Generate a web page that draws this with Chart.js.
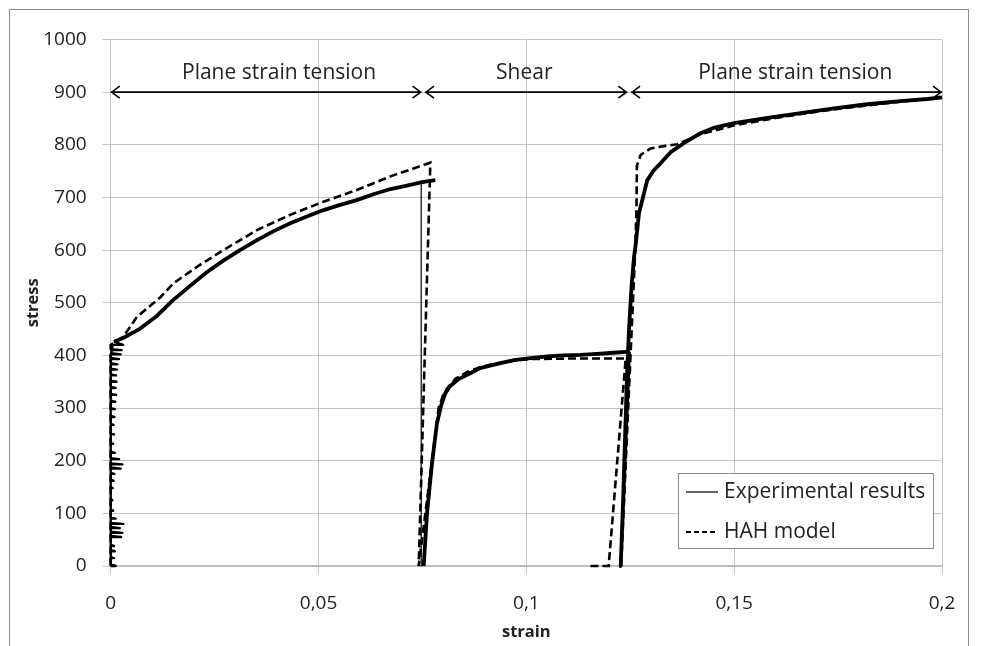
<!DOCTYPE html>
<html>
<head>
<meta charset="utf-8">
<script src="https://cdn.jsdelivr.net/npm/chart.js@4.4.1/dist/chart.umd.min.js"></script>
<style>
  body { margin: 0; background: #fff; overflow: hidden; }
  #wrap { position: relative; width: 986px; height: 646px; }
  #frame { position: absolute; left: 9px; top: 9px; width: 958px; height: 700px; border: 1px solid #8c8c8c; pointer-events: none; }
</style>
</head>
<body>
<div id="wrap">
  <div id="frame"></div>
  <canvas id="chart"></canvas>
</div>
<script>
// axis ticks
const xTickLabels = ['0', '0,05', '0,1', '0,15', '0,2'];

// experimental results: elastic part of the first plane strain tension (noisy spikes)
const expElasticStrain = [0, 0.0012, 0, 0, 0.0008, 0, 0, 0.0010, 0, 0, 0.0008, 0, 0, 0.0025, 0, 0, 0.0028, 0, 0, 0.0022, 0,
  0, 0.0030, 0, 0, 0.0012, 0, 0, 0.0006, 0, 0, 0.0004, 0, 0, 0.0005, 0, 0, 0.0007, 0, 0, 0.0009, 0, 0, 0.0024, 0,
  0, 0.0028, 0, 0, 0.0020, 0, 0, 0.0010, 0, 0, 0.0006, 0, 0, 0.0008, 0, 0, 0.0007, 0, 0, 0.0009, 0, 0, 0.0010, 0,
  0, 0.0011, 0, 0, 0.0013, 0, 0, 0.0012, 0, 0, 0.0014, 0, 0, 0.0013, 0, 0, 0.0015, 0, 0, 0.0016, 0, 0, 0.0020, 0,
  0, 0.0024, 0.0001, 0.0002, 0.0026, 0.0003, 0.0005, 0.0030, 0.0008];
const expElasticStress = [0, 0, 3, 15, 15, 17, 28, 28, 30, 38, 38, 40, 55, 55, 57, 63, 63, 65, 72, 72, 74,
  80, 80, 82, 90, 90, 92, 105, 105, 107, 125, 125, 127, 148, 148, 150, 162, 162, 164, 175, 175, 177, 185, 185, 187,
  193, 193, 195, 203, 203, 205, 215, 215, 217, 232, 232, 234, 250, 250, 252, 268, 268, 270, 283, 283, 285, 298, 298, 300,
  312, 312, 314, 325, 325, 327, 338, 338, 340, 350, 350, 352, 362, 362, 364, 373, 373, 375, 383, 383, 385, 393, 393, 395,
  402, 402, 404, 410, 410, 412, 420, 420, 426];

// experimental: hardening of the first plane strain tension
const expPst1Strain = [0.0008, 0.003, 0.0071, 0.0111, 0.015, 0.0191, 0.0231, 0.0271, 0.0311, 0.0352, 0.0392, 0.0432,
  0.0472, 0.0512, 0.0552, 0.0592, 0.0632, 0.0673, 0.071, 0.0749, 0.0781];
const expPst1Stress = [426, 433, 451, 475, 505, 532, 558, 580, 600, 619, 636, 651,
  664, 676, 686, 695, 706, 716, 722, 729, 733];

// experimental: sudden unloading after the first path
const expDropStrain = [0.0747, 0.0747];
const expDropStress = [727, 0];

// experimental: shear, unloading, second plane strain tension
const expShearStrain = [0.0753, 0.0761, 0.0773, 0.0785, 0.0795, 0.0805, 0.0817, 0.0837, 0.0865, 0.0889, 0.093, 0.097,
  0.101, 0.105, 0.109, 0.113, 0.117, 0.121, 0.1247];
const expShearStress = [0, 100, 195, 271, 305, 328, 342, 355, 366, 376, 384, 391,
  395, 398, 400, 401, 403, 405, 407];
const expPst2Strain = [0.1247, 0.1227, 0.1233, 0.1238, 0.1243, 0.1247, 0.1253, 0.1259, 0.1263, 0.1271, 0.1283, 0.1291,
  0.1307, 0.1323, 0.1347, 0.1379, 0.1419, 0.145, 0.15, 0.158, 0.166, 0.174, 0.182, 0.19, 0.1965, 0.2];
const expPst2Stress = [407, 0, 130, 258, 380, 450, 530, 587, 610, 670, 708, 733,
  752, 765, 786, 803, 822, 832, 841, 851, 860, 869, 877, 883, 887, 890];

// HAH model: first plane strain tension, shear and unloading
const hahPst1Strain = [0, 0, 0.003, 0.0063, 0.0119, 0.0151, 0.0211, 0.0271, 0.0352, 0.0432, 0.0512, 0.0592, 0.0673, 0.0769,
  0.0741, 0.0789, 0.08, 0.0809, 0.083, 0.0857, 0.089, 0.093, 0.097, 0.101, 0.11, 0.1239, 0.1198, 0.115];
const hahPst1Stress = [0, 420, 435, 473, 510, 537, 570, 600, 638, 667, 692, 714, 740, 766,
  0, 300, 325, 337, 356, 368, 378, 385, 390, 393, 394, 394, 0, 0];
// HAH model: second plane strain tension
const hahPst2Strain = [0.1228, 0.1262, 0.1265, 0.1266, 0.1275, 0.1299, 0.1335, 0.1363, 0.1387, 0.1419, 0.15, 0.16,
  0.17, 0.18, 0.19, 0.2];
const hahPst2Stress = [0, 600, 680, 760, 781, 793, 798, 801, 809, 820, 837, 851,
  863, 873, 882, 890];

// loading paths drawn above the curves
const phaseNames = ['Plane strain tension', 'Shear', 'Plane strain tension'];
const phaseFrom = [0, 0.0756, 0.1252];
const phaseTo = [0.0748, 0.1243, 0.2];
const phaseLabelAt = [0.0405, 0.0995, 0.1647];
const arrowStress = 900;
const labelStress = 936;

const legendNames = ['Experimental results', 'HAH model'];

function pts(xs, ys) {
  return xs.map((v, i) => ({ x: v, y: ys[i] }));
}

const FONT = "'Open Sans', 'DejaVu Sans', sans-serif";
const TXT = '#222';

const expStyle = { borderColor: '#000', borderWidth: 3.8, borderJoinStyle: 'round', pointRadius: 0, showLine: true, tension: 0, fill: false, clip: 6 };
const hahStyle = { borderColor: '#000', borderWidth: 2.6, borderDash: [8, 4], pointRadius: 0, showLine: true, tension: 0, fill: false, clip: 6 };

const phasePlugin = {
  id: 'phases',
  afterDatasetsDraw(chart) {
    const { ctx, scales: { x, y } } = chart;
    ctx.save();
    ctx.strokeStyle = '#000';
    ctx.lineWidth = 1.6;
    ctx.fillStyle = TXT;
    ctx.font = '21px ' + FONT;
    ctx.textAlign = 'center';
    ctx.textBaseline = 'middle';
    const ay = y.getPixelForValue(arrowStress);
    phaseNames.forEach((name, i) => {
      const x1 = x.getPixelForValue(phaseFrom[i]);
      const x2 = x.getPixelForValue(phaseTo[i]);
      ctx.beginPath();
      ctx.moveTo(x1, ay);
      ctx.lineTo(x2, ay);
      ctx.moveTo(x1 + 9, ay - 6);
      ctx.lineTo(x1 + 1, ay);
      ctx.lineTo(x1 + 9, ay + 6);
      ctx.moveTo(x2 - 9, ay - 6);
      ctx.lineTo(x2 - 1, ay);
      ctx.lineTo(x2 - 9, ay + 6);
      ctx.stroke();
      ctx.fillText(name, x.getPixelForValue(phaseLabelAt[i]), y.getPixelForValue(labelStress));
    });
    ctx.restore();
  }
};

const legendPlugin = {
  id: 'boxLegend',
  afterDraw(chart) {
    const { ctx, chartArea } = chart;
    const w = 255, h = 75;
    const left = chartArea.right - 9 - w;
    const top = chartArea.bottom - 18 - h;
    ctx.save();
    ctx.fillStyle = '#fff';
    ctx.fillRect(left, top, w, h);
    ctx.strokeStyle = '#8c8c8c';
    ctx.lineWidth = 1;
    ctx.strokeRect(left + 0.5, top + 0.5, w, h);
    ctx.strokeStyle = '#000';
    ctx.beginPath();
    ctx.lineWidth = 1.2;
    ctx.moveTo(left + 8, top + 19);
    ctx.lineTo(left + 40, top + 19);
    ctx.stroke();
    ctx.beginPath();
    ctx.lineWidth = 2;
    ctx.setLineDash([5, 3]);
    ctx.moveTo(left + 8, top + 59);
    ctx.lineTo(left + 40, top + 59);
    ctx.stroke();
    ctx.setLineDash([]);
    ctx.fillStyle = TXT;
    ctx.font = '21px ' + FONT;
    ctx.textBaseline = 'middle';
    ctx.fillText(legendNames[0], left + 46, top + 19);
    ctx.fillText(legendNames[1], left + 46, top + 59);
    ctx.restore();
  }
};

new Chart(document.getElementById('chart'), {
  type: 'scatter',
  data: {
    datasets: [
      { label: legendNames[1], data: pts(hahPst1Strain, hahPst1Stress), ...hahStyle },
      { label: legendNames[1], data: pts(hahPst2Strain, hahPst2Stress), ...hahStyle },
      { label: legendNames[0], data: pts(expElasticStrain, expElasticStress), ...expStyle, borderWidth: 2.4 },
      { label: legendNames[0], data: pts(expPst1Strain, expPst1Stress), ...expStyle },
      { label: legendNames[0], data: pts(expDropStrain, expDropStress), ...expStyle, borderWidth: 1.2 },
      { label: legendNames[0], data: pts(expShearStrain, expShearStress), ...expStyle },
      { label: legendNames[0], data: pts(expPst2Strain, expPst2Stress), ...expStyle }
    ]
  },
  options: {
    responsive: true,
    maintainAspectRatio: false,
    animation: false,
    layout: { padding: { left: 10.7, top: 39.5, right: 44, bottom: 0 } },
    plugins: { legend: { display: false }, tooltip: { enabled: false } },
    scales: {
      x: {
        type: 'linear',
        min: 0,
        max: 0.2,
        afterFit: s => { s.height = 80; },
        grid: { color: '#c4c4c4', tickLength: 8, tickColor: '#c4c4c4' },
        border: { color: '#bdbdbd', width: 2 },
        ticks: {
          stepSize: 0.05,
          padding: 18,
          color: TXT,
          font: { family: FONT, size: 19 },
          callback: (v, i) => xTickLabels[i]
        },
        title: { display: true, text: 'strain', color: TXT, font: { family: FONT, size: 16.5, weight: 'bold' }, padding: { top: 0, bottom: 4 } }
      },
      y: {
        min: 0,
        max: 1000,
        afterFit: s => { s.width = 100; },
        grid: { color: '#c4c4c4', tickLength: 8, tickColor: '#c4c4c4' },
        border: { color: '#c4c4c4' },
        ticks: {
          stepSize: 100,
          padding: 16,
          color: TXT,
          font: { family: FONT, size: 19 },
          callback: v => String(v)
        },
        title: { display: true, text: 'stress', color: TXT, font: { family: FONT, size: 16.5, weight: 'bold' }, padding: { top: 13, bottom: 0 } }
      }
    }
  },
  plugins: [phasePlugin, legendPlugin]
});
</script>
</body>
</html>
